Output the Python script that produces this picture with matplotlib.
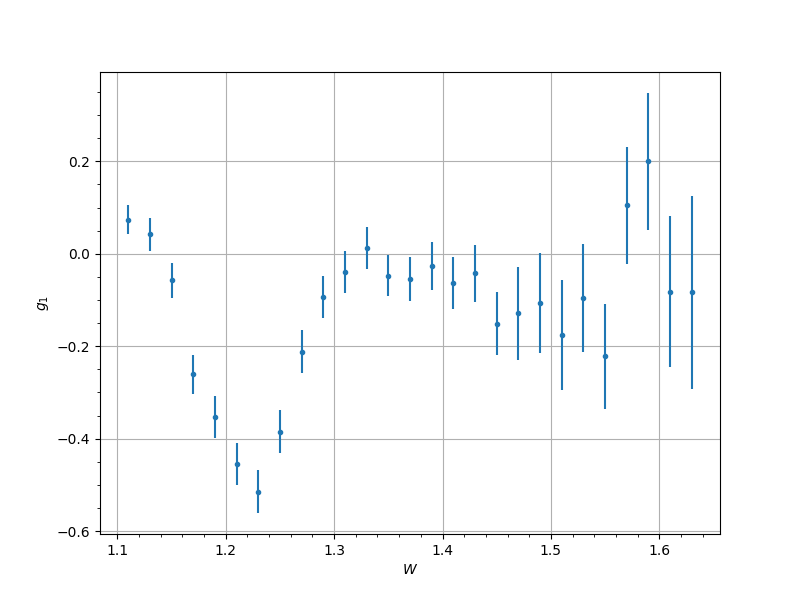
import numpy as np
import matplotlib
matplotlib.use('Agg')
import matplotlib.pyplot as plt

# W bins and measured g1 with uncertainties
W = [1.11, 1.13, 1.15, 1.17, 1.19, 1.21, 1.23, 1.25, 1.27, 1.29, 1.31, 1.33, 1.35, 1.37,
     1.39, 1.41, 1.43, 1.45, 1.47, 1.49, 1.51, 1.53, 1.55, 1.57, 1.59, 1.61, 1.63]
g1 = [0.074, 0.042, -0.057, -0.261, -0.353, -0.455, -0.515, -0.385, -0.212, -0.094,
      -0.040, 0.012, -0.047, -0.055, -0.026, -0.064, -0.042, -0.151, -0.129, -0.107,
      -0.175, -0.096, -0.222, 0.105, 0.200, -0.082, -0.083]
g1_err = [0.032, 0.036, 0.038, 0.042, 0.045, 0.045, 0.046, 0.047, 0.046, 0.045,
          0.045, 0.045, 0.045, 0.048, 0.052, 0.056, 0.062, 0.068, 0.100, 0.108,
          0.119, 0.117, 0.114, 0.127, 0.148, 0.163, 0.209]

fig, ax = plt.subplots(figsize=(8, 6), dpi=100)
ax.errorbar(W, g1, yerr=g1_err, fmt='.')
ax.set_xlabel('$W$')
ax.set_ylabel('$g_1$')
ax.minorticks_on()
ax.grid(which='major')
fig.savefig('out.png')
